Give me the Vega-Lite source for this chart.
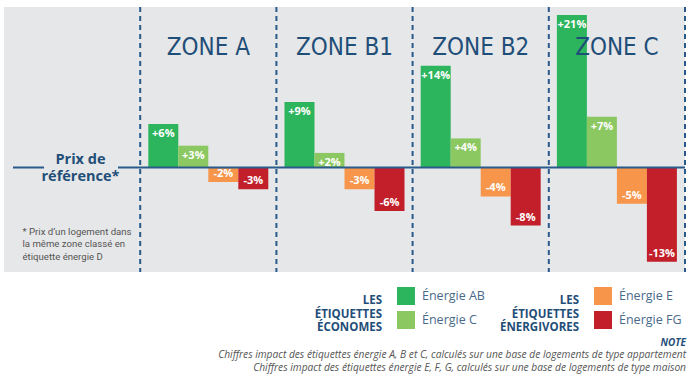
{
  "$schema": "https://vega.github.io/schema/vega-lite/v6.json",
  "width": 681,
  "height": 265,
  "padding": {"left": 3, "top": 6, "right": 3, "bottom": 0},
  "background": "white",
  "datasets": {
    "econ": [
      {"zone": "ZONE A", "cls": "Énergie AB", "value": 0.06},
      {"zone": "ZONE A", "cls": "Énergie C", "value": 0.03},
      {"zone": "ZONE B1", "cls": "Énergie AB", "value": 0.09},
      {"zone": "ZONE B1", "cls": "Énergie C", "value": 0.02},
      {"zone": "ZONE B2", "cls": "Énergie AB", "value": 0.14},
      {"zone": "ZONE B2", "cls": "Énergie C", "value": 0.04},
      {"zone": "ZONE C", "cls": "Énergie AB", "value": 0.21},
      {"zone": "ZONE C", "cls": "Énergie C", "value": 0.07}
    ],
    "energ": [
      {"zone": "ZONE A", "cls": "Énergie E", "value": -0.02},
      {"zone": "ZONE A", "cls": "Énergie FG", "value": -0.03},
      {"zone": "ZONE B1", "cls": "Énergie E", "value": -0.03},
      {"zone": "ZONE B1", "cls": "Énergie FG", "value": -0.06},
      {"zone": "ZONE B2", "cls": "Énergie E", "value": -0.04},
      {"zone": "ZONE B2", "cls": "Énergie FG", "value": -0.08},
      {"zone": "ZONE C", "cls": "Énergie E", "value": -0.05},
      {"zone": "ZONE C", "cls": "Énergie FG", "value": -0.13}
    ],
    "zones": [
      {"zone": "ZONE A"},
      {"zone": "ZONE B1"},
      {"zone": "ZONE B2"},
      {"zone": "ZONE C"}
    ],
    "ref": [{"value": 0}]
  },
  "title": {
    "text": "NOTE",
    "subtitle": [
      "Chiffres impact des étiquettes énergie A, B et C, calculés sur une base de logements de type appartement",
      "Chiffres impact des étiquettes  énergie E, F, G, calculés sur une base de logements de type maison"
    ],
    "orient": "bottom",
    "anchor": "end",
    "font": "Open Sans",
    "fontSize": 10,
    "fontStyle": "italic",
    "fontWeight": "bold",
    "color": "#1f4e79",
    "subtitleFont": "Open Sans",
    "subtitleFontSize": 10.2,
    "subtitleFontStyle": "italic",
    "subtitleColor": "#555555",
    "subtitleLineHeight": 13,
    "subtitlePadding": 2,
    "offset": 4
  },
  "layer": [
    {
      "data": {"name": "zones"},
      "mark": {"type": "rule", "color": "#2a5a8a", "strokeWidth": 2, "strokeDash": [5, 4]},
      "encoding": {
        "x": {
          "field": "zone", "type": "nominal", "bandPosition": 0,
          "scale": {"domain": ["", "ZONE A", "ZONE B1", "ZONE B2", "ZONE C"], "paddingInner": 0, "paddingOuter": 0},
          "axis": {
            "orient": "top", "title": null, "domain": false, "ticks": false, "tickSize": 0, "grid": false,
            "labelPadding": -40, "labelBaseline": "middle", "labelAngle": 0, "zindex": 1,
            "labelFont": "DejaVu Sans Condensed", "labelFontSize": 24, "labelColor": "#1f4e79"
          }
        }
      }
    },
    {
      "data": {"name": "zones"},
      "mark": {"type": "rule", "color": "#2a5a8a", "strokeWidth": 2, "strokeDash": [5, 4]},
      "encoding": {
        "x": {"datum": "ZONE C", "bandPosition": 1}
      }
    },
    {
      "data": {"name": "econ"},
      "mark": {"type": "bar"},
      "encoding": {
        "x": {"field": "zone", "type": "nominal"},
        "xOffset": {
          "field": "cls", "type": "nominal",
          "scale": {"domain": ["Énergie AB", "Énergie C", "Énergie E", "Énergie FG"], "paddingInner": 0, "paddingOuter": 0.27}
        },
        "y": {
          "field": "value", "type": "quantitative",
          "scale": {"domain": [-0.144, 0.221], "nice": false, "zero": false},
          "axis": {
            "orient": "left", "values": [0], "domain": false, "ticks": false, "tickSize": 0, "grid": false,
            "labelExpr": "['Prix de', 'référence*']",
            "labelPadding": -76, "labelAlign": "center", "labelBaseline": "middle", "labelOffset": -8,
            "labelFont": "Open Sans", "labelFontWeight": "bold", "labelFontSize": 14.5,
            "labelColor": "#1f4e79", "labelLineHeight": 17,
            "title": ["* Prix d’un logement dans", "\u00a0\u00a0la même zone classé en", "\u00a0\u00a0étiquette énergie D"],
            "titleAngle": 0, "titleX": 18, "titleY": 219, "titleAlign": "left", "titleBaseline": "top",
            "titleFont": "Liberation Sans Narrow, Roboto, sans-serif", "titleFontWeight": "normal",
            "titleFontSize": 9.6, "titleColor": "#555555", "titleLineHeight": 12.5
          }
        },
        "color": {
          "field": "cls", "type": "nominal",
          "scale": {"domain": ["Énergie AB", "Énergie C"], "range": ["#2db55d", "#8bc862"]},
          "legend": {
            "orient": "none", "legendX": 311, "legendY": 280, "titlePadding": -53,
            "title": ["LES", "ÉTIQUETTES", "ÉCONOMES"]
          }
        }
      }
    },
    {
      "data": {"name": "energ"},
      "mark": {"type": "bar"},
      "encoding": {
        "x": {"field": "zone", "type": "nominal"},
        "xOffset": {
          "field": "cls", "type": "nominal",
          "scale": {"domain": ["Énergie AB", "Énergie C", "Énergie E", "Énergie FG"], "paddingInner": 0, "paddingOuter": 0.27}
        },
        "y": {"field": "value", "type": "quantitative"},
        "color": {
          "field": "cls", "type": "nominal",
          "scale": {"domain": ["Énergie E", "Énergie FG"], "range": ["#f7964b", "#c21f2a"]},
          "legend": {
            "orient": "none", "legendX": 496, "legendY": 280, "titlePadding": -64,
            "title": ["LES", "ÉTIQUETTES", "ÉNERGIVORES"]
          }
        }
      }
    },
    {
      "data": {"name": "ref"},
      "mark": {"type": "rule", "color": "#2a5a8a", "strokeWidth": 2, "strokeDash": [567, 74, 31, 100]},
      "encoding": {"y": {"field": "value", "type": "quantitative"}}
    },
    {
      "data": {"name": "econ"},
      "mark": {"type": "text", "baseline": "top", "dy": 4, "color": "white", "font": "Open Sans", "fontWeight": "bold", "fontSize": 11},
      "encoding": {
        "x": {"field": "zone", "type": "nominal"},
        "xOffset": {"field": "cls", "type": "nominal"},
        "y": {"field": "value", "type": "quantitative"},
        "text": {"field": "value", "type": "quantitative", "format": "+.0%"}
      }
    },
    {
      "data": {"name": "energ"},
      "mark": {"type": "text", "baseline": "bottom", "dy": -3, "color": "white", "font": "Open Sans", "fontWeight": "bold", "fontSize": 11},
      "encoding": {
        "x": {"field": "zone", "type": "nominal"},
        "xOffset": {"field": "cls", "type": "nominal"},
        "y": {"field": "value", "type": "quantitative"},
        "text": {"field": "value", "type": "quantitative", "format": "+.0%"}
      }
    }
  ],
  "resolve": {"scale": {"color": "independent"}, "legend": {"color": "independent"}},
  "config": {
    "view": {"fill": "#e6e7e8", "stroke": null},
    "font": "Open Sans",
    "locale": {"number": {"decimal": ".", "thousands": ",", "grouping": [3], "currency": ["", ""], "minus": "-"}},
    "legend": {
      "titleOrient": "left", "titleAlign": "right", "titleFont": "Open Sans", "titleFontWeight": "bold",
      "titleFontSize": 11.5, "titleColor": "#1f4e79", "titleLineHeight": 13.5,
      "titleBaseline": "top", "titleLimit": 100,
      "symbolType": "square", "symbolSize": 324, "symbolStrokeWidth": 0, "symbolOpacity": 1,
      "labelFont": "Open Sans", "labelFontSize": 12.5, "labelColor": "#4a6a8c", "labelOffset": 7,
      "rowPadding": 6
    }
  }
}
